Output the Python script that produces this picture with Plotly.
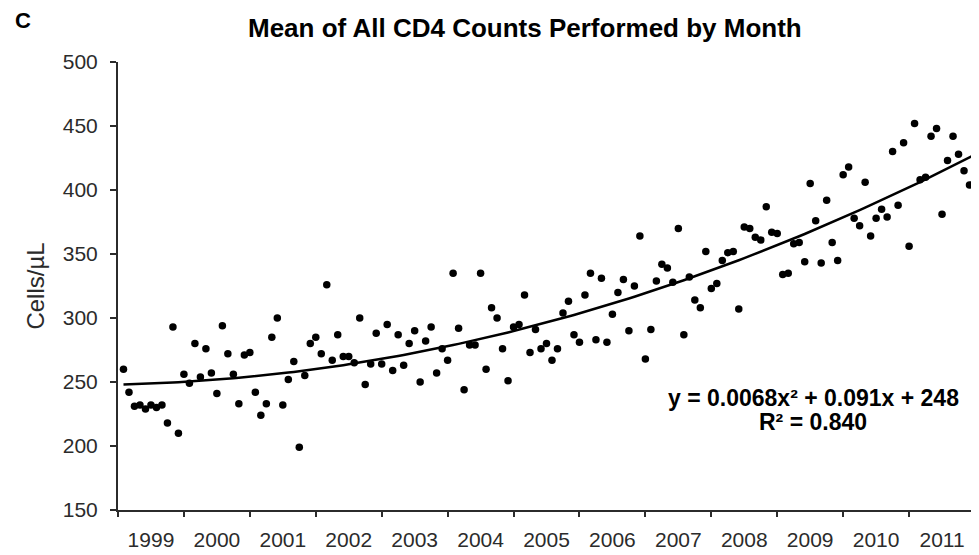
import plotly.graph_objects as go

# Monthly mean CD4 counts (cells/µL), Jan 1999 .. Dec 2011 (last month has two entries)
months = list(range(1, 157)) + [156]
cd4_mean = [
    260, 242, 231, 232, 229, 232, 230, 232, 218, 293, 210, 256,   # 1999
    249, 280, 254, 276, 257, 241, 294, 272, 256, 233, 271, 273,   # 2000
    242, 224, 233, 285, 300, 232, 252, 266, 199, 255, 280, 285,   # 2001
    272, 326, 267, 287, 270, 270, 265, 300, 248, 264, 288, 264,   # 2002
    295, 259, 287, 263, 280, 290, 250, 282, 293, 257, 276, 267,   # 2003
    335, 292, 244, 279, 279, 335, 260, 308, 300, 276, 251, 293,   # 2004
    295, 318, 273, 291, 276, 280, 267, 276, 304, 313, 287, 281,   # 2005
    318, 335, 283, 331, 281, 303, 320, 330, 290, 325, 364, 268,   # 2006
    291, 329, 342, 339, 328, 370, 287, 332, 314, 308, 352, 323,   # 2007
    327, 345, 351, 352, 307, 371, 370, 363, 361, 387, 367, 366,   # 2008
    334, 335, 358, 359, 344, 405, 376, 343, 392, 359, 345, 412,   # 2009
    418, 378, 372, 406, 364, 378, 385, 379, 430, 388, 437, 356,   # 2010
    452, 408, 410, 442, 448, 381, 423, 442, 428, 415, 404, 428,   # 2011
    426,
]

# Polynomial trendline coefficients as printed on the chart
trend_a, trend_b, trend_c = 0.0068, 0.091, 248
trend_x = list(range(1, 157))
trend_y = [trend_a * x * x + trend_b * x + trend_c for x in trend_x]

years = [str(y) for y in range(1999, 2012)]
year_centers = [6 + 12 * i for i in range(len(years))]
year_bounds = [12 * i for i in range(len(years) + 1)]

FONT = "Liberation Sans, Arial, sans-serif"
AX = "#2b2b2b"

fig = go.Figure()
fig.add_trace(go.Scatter(
    x=months, y=cd4_mean, mode="markers",
    marker=dict(color="black", size=7.5),
    showlegend=False, hoverinfo="x+y",
))
fig.add_trace(go.Scatter(
    x=trend_x, y=trend_y, mode="lines",
    line=dict(color="black", width=2.5),
    showlegend=False, hoverinfo="skip",
))

fig.update_layout(
    width=979, height=555,
    paper_bgcolor="white", plot_bgcolor="white",
    margin=dict(l=110, r=12, t=54, b=46),
    font=dict(family=FONT, color=AX),
    xaxis=dict(
        range=[0, 156], showgrid=False, zeroline=False,
        showline=True, linecolor=AX, linewidth=2,
        tickmode="array", tickvals=year_centers, ticktext=years,
        ticks="outside", ticklen=10, tickcolor="rgba(0,0,0,0)",
        tickfont=dict(size=21, color=AX, family=FONT),
        minor=dict(tickmode="array", tickvals=year_bounds, ticks="outside",
                   ticklen=5, tickwidth=1.5, tickcolor=AX, showgrid=False),
    ),
    yaxis=dict(
        range=[150, 500], showgrid=False, zeroline=False,
        showline=True, linecolor=AX, linewidth=2,
        tickmode="linear", tick0=150, dtick=50,
        ticks="outside", ticklen=6, tickwidth=1.5, tickcolor=AX,
        ticklabelstandoff=8,
        tickfont=dict(size=21, color=AX, family=FONT),
        title=dict(text="Cells/µL", font=dict(size=24, color=AX, family=FONT), standoff=11),
    ),
    annotations=[
        dict(text="<b>Mean of All CD4 Counts Performed by Month</b>",
             xref="paper", yref="paper", x=0.475, y=1.0, yshift=34,
             xanchor="center", yanchor="middle", showarrow=False,
             font=dict(size=26, color="black", family=FONT)),
        dict(text="<b>C</b>", xref="paper", yref="paper", x=-0.122, y=1.0, yshift=42,
             xanchor="left", yanchor="middle", showarrow=False,
             font=dict(size=22, color="black", family=FONT)),
        dict(text="<b>y = 0.0068x² + 0.091x + 248</b>",
             xref="paper", yref="paper", x=0.811, y=0.25,
             xanchor="center", yanchor="middle", showarrow=False,
             font=dict(size=23, color="black", family=FONT)),
        dict(text="<b>R² = 0.840</b>",
             xref="paper", yref="paper", x=0.811, y=0.196,
             xanchor="center", yanchor="middle", showarrow=False,
             font=dict(size=23, color="black", family=FONT)),
    ],
)

fig.write_html("out.html")
